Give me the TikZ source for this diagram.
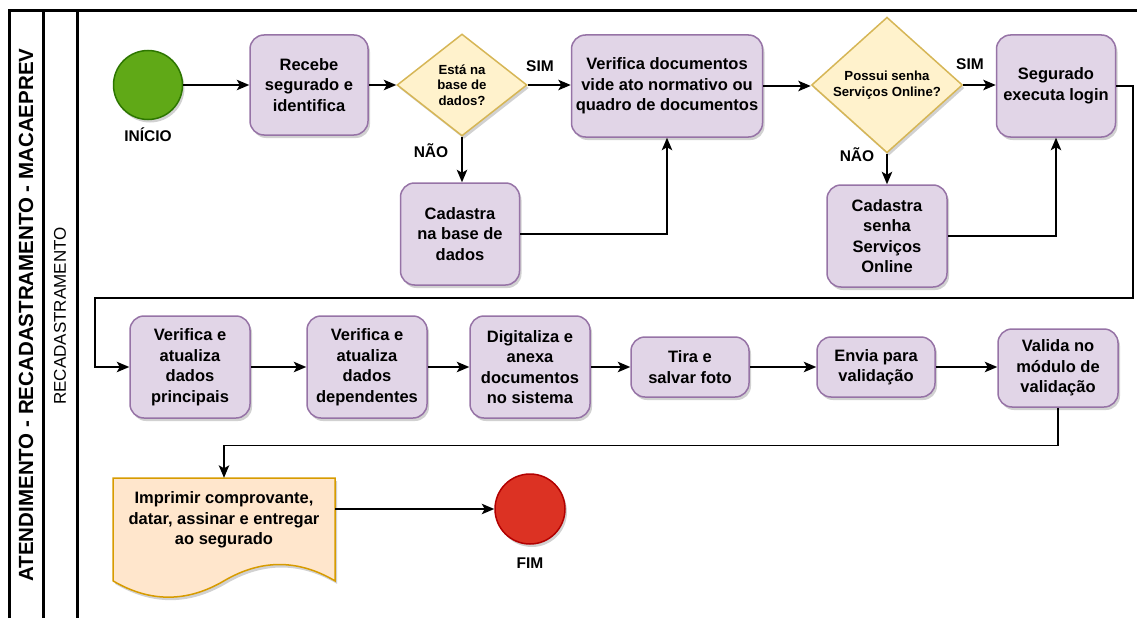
\documentclass[tikz,border=0pt]{standalone}
\usepackage{fontspec}
\setmainfont{Liberation Sans}
\usetikzlibrary{arrows.meta,shapes.geometric,shadows}
\definecolor{boxfill}{HTML}{E1D5E7}
\definecolor{boxstroke}{HTML}{9673A6}
\definecolor{dmfill}{HTML}{FFF2CC}
\definecolor{dmstroke}{HTML}{D6B656}
\definecolor{stfill}{HTML}{60A917}
\definecolor{ststroke}{HTML}{2D7600}
\definecolor{endfill}{HTML}{DC3223}
\definecolor{endstroke}{HTML}{B20000}
\definecolor{docfill}{HTML}{FFE6CC}
\definecolor{docstroke}{HTML}{D79B00}
\newcommand\boxfnt{\bfseries\fontsize{16.5}{20.5}\selectfont}
\newcommand\dmfnt{\bfseries\fontsize{13.2}{15.5}\selectfont}
\newcommand\lblfnt{\bfseries\fontsize{15.5}{18}\selectfont}
\begin{document}
\begin{tikzpicture}[x=1pt,y=-1pt,
  shd/.style={drop shadow={shadow xshift=2pt,shadow yshift=-3pt,opacity=0.18,fill=black}},
  box/.style={rectangle,rounded corners=14pt,draw=boxstroke,fill=boxfill,line width=1.5pt,
    align=center,inner sep=0pt,font=\boxfnt,minimum width=120pt,minimum height=102pt,shd},
  dm/.style={diamond,draw=dmstroke,fill=dmfill,line width=1.5pt,align=center,inner sep=0pt,
    font=\dmfnt,shd},
  evt/.style={circle,line width=1.5pt,minimum size=69pt,inner sep=0pt,shd},
  lbl/.style={font=\lblfnt,inner sep=0pt},
  arr/.style={line width=1.4pt,-{Stealth[length=12.5pt,width=10.5pt,inset=3pt]}},
  lane/.style={line width=3pt}]
\useasboundingbox (0,0) rectangle (1137,618);
% frame
\draw[lane] (9,618) -- (9,11) -- (1137,11);
\draw[lane] (43,11) -- (43,618);
\draw[lane] (77,11) -- (77,618);
\node[rotate=90,font=\bfseries\fontsize{20.5}{24}\selectfont,inner sep=0pt] (lanetitle) at (26,315) {ATENDIMENTO - RECADASTRAMENTO - MACAEPREV};
\node[rotate=90,font=\fontsize{17}{20}\selectfont,inner sep=0pt] (lanesub) at (60,316) {RECADASTRAMENTO};
% row 1
\node[evt,draw=ststroke,fill=stfill] (start) at (148,85) {};
\node[lbl] (startlbl) at (148,135) {INÍCIO};
\node[box,minimum width=118pt,minimum height=100pt] (recebe) at (309,85) {Recebe\\segurado e\\identifica};
\node[dm,minimum width=130pt,minimum height=102pt] (d1) at (462,85) {Está na\\base de\\dados?};
\node[box,minimum width=191pt] (ver) at (667,86) {Verifica documentos\\vide ato normativo ou\\quadro de documentos};
\node[dm,minimum width=151pt,minimum height=116pt] (d2) at (887,85) {Possui senha\\Serviços Online?};
\node[box,minimum width=119pt] (seg) at (1056,86) {Segurado\\executa login};
\node[box,minimum width=119pt] (cad1) at (460,234) {Cadastra\\na base de\\dados};
\node[box] (cad2) at (887,236) {Cadastra\\senha\\Serviços\\Online};
\node[lbl] (sim1) at (540,66) {SIM};
\node[lbl] (nao1) at (431,151) {NÃO};
\node[lbl] (sim2) at (970,64) {SIM};
\node[lbl] (nao2) at (857,155) {NÃO};
% row 2
\node[box] (p1) at (190,367) {Verifica e\\atualiza\\dados\\principais};
\node[box] (p2) at (367,367) {Verifica e\\atualiza\\dados\\dependentes};
\node[box] (p3) at (530,367) {Digitaliza e\\anexa\\documentos\\no sistema};
\node[box,minimum width=118pt,minimum height=60pt] (p4) at (690,367) {Tira e\\salvar foto};
\node[box,minimum width=118pt,minimum height=60pt] (p5) at (876,367) {Envia para\\validação};
\node[box,minimum height=78pt] (p6) at (1058,368) {Valida no\\módulo de\\validação};
% row 3
\fill[black,opacity=0.18] ([shift={(2,3)}]113,478) -- ([shift={(2,3)}]335,478) -- ([shift={(2,3)}]335,580.85)
  .. controls ([shift={(2,3)}]298,559.08) and ([shift={(2,3)}]261,559.08) .. ([shift={(2,3)}]224,580.85)
  .. controls ([shift={(2,3)}]187,602.6) and ([shift={(2,3)}]150,602.6) .. ([shift={(2,3)}]113,580.85) -- cycle;
\draw[draw=docstroke,fill=docfill,line width=1.5pt] (113,478) -- (335,478) -- (335,580.85)
  .. controls (298,559.08) and (261,559.08) .. (224,580.85)
  .. controls (187,602.6) and (150,602.6) .. (113,580.85) -- cycle;
\node[align=center,font=\boxfnt,inner sep=0pt,minimum width=222pt,minimum height=84pt] (doc) at (224,520) {Imprimir comprovante,\\datar, assinar e entregar\\ao segurado};
\node[evt,draw=endstroke,fill=endfill,minimum size=70pt] (fim) at (530,509) {};
\node[lbl] (fimlbl) at (530,563) {FIM};
% connectors
\coordinate (r1) at (1133,298);
\coordinate (l1) at (95,298);
\draw[arr] (start) -- (recebe);
\draw[arr] (recebe) -- (d1);
\draw[arr] (d1.east) -- (d1.east -| ver.west);
\draw[arr] (d1.south) -- (d1.south |- cad1.north);
\draw[arr] (cad1.east) -| (ver.south);
\draw[arr] (ver.east) -- (ver.east -| d2.west);
\draw[arr] (d2.east) -- (d2.east -| seg.west);
\draw[arr] (d2.south) -- (cad2.north);
\draw[arr] (cad2.east) -| (seg.south);
\draw[arr] (seg.east) -| (r1) -- (l1) |- (p1.west);
\draw[arr] (p1) -- (p2);
\draw[arr] (p2) -- (p3);
\draw[arr] (p3) -- (p4);
\draw[arr] (p4) -- (p5);
\draw[arr] (p5.east) -- (p5.east -| p6.west);
\draw[arr] (p6.south) -- ++(0,38) -| (doc.north);
\draw[arr] (doc.east |- fim.west) -- (fim.west);
\end{tikzpicture}
\end{document}
